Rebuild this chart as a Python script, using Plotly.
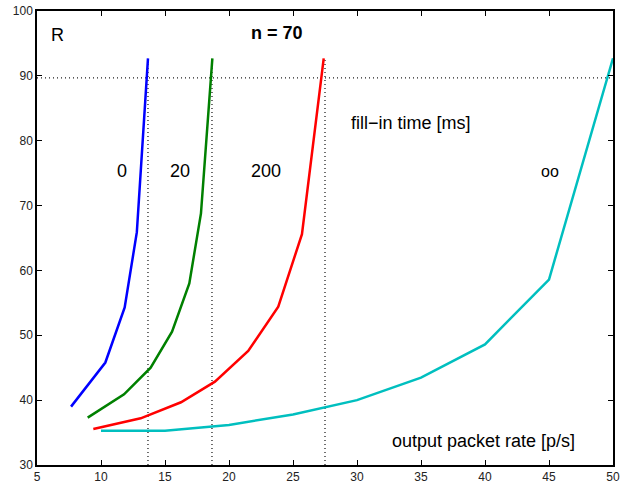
import plotly.graph_objects as go

# Curves: fill-in time 0, 20, 200 ms and infinity
x_0 = [7.66, 10.34, 11.85, 12.8, 13.67]
y_0 = [39.0, 45.8, 54.3, 65.9, 92.7]

x_20 = [8.96, 11.8, 13.88, 15.55, 16.9, 17.81, 18.7]
y_20 = [37.3, 40.9, 45.0, 50.55, 58.0, 68.8, 92.7]

x_200 = [9.4, 13.1, 16.25, 18.9, 21.5, 23.85, 25.7, 27.4]
y_200 = [35.55, 37.2, 39.67, 42.85, 47.58, 54.4, 65.6, 92.7]

x_inf = [10, 15, 20, 25, 30, 35, 40, 45, 50]
y_inf = [35.3, 35.3, 36.17, 37.8, 40.0, 43.46, 48.6, 58.6, 92.7]

# Reference lines
vline_x = [13.67, 18.67, 27.5]
vline_top = 92.7
hline_y = 89.7

x_ticks = [5, 10, 15, 20, 25, 30, 35, 40, 45, 50]
y_ticks = [30, 40, 50, 60, 70, 80, 90, 100]

FONT = "Liberation Sans, Arial, Helvetica, sans-serif"
DOT = dict(color="#222222", width=1.3, dash="1px,3px")

fig = go.Figure()

# dotted reference lines
fig.add_trace(go.Scatter(x=[5, 50], y=[hline_y, hline_y], mode="lines",
                         line=DOT, showlegend=False, hoverinfo="skip"))
for vx in vline_x:
    fig.add_trace(go.Scatter(x=[vx, vx], y=[30, vline_top], mode="lines",
                             line=DOT, showlegend=False, hoverinfo="skip"))

series = [
    (x_0, y_0, "#0000FF"),
    (x_20, y_20, "#008000"),
    (x_200, y_200, "#FF0000"),
    (x_inf, y_inf, "#00BFBF"),
]
for xs, ys, c in series:
    fig.add_trace(go.Scatter(x=xs, y=ys, mode="lines",
                             line=dict(color=c, width=2.5),
                             showlegend=False))

annots = [
    (6.64, 96.3, "R", False, 18),
    (23.75, 96.6, "n = 70", True, 18),
    (11.64, 75.3, "0", False, 18),
    (16.2, 75.3, "20", False, 18),
    (22.9, 75.3, "200", False, 18),
    (34.2, 82.7, "fill\u2212in time [ms]", False, 18),
    (45.1, 75.3, "oo", False, 16),
    (39.9, 33.7, "output packet rate [p/s]", False, 18),
]
for ax, ay, t, b, s in annots:
    fig.add_annotation(x=ax, y=ay, text=f"<b>{t}</b>" if b else t,
                       showarrow=False, font=dict(family=FONT, size=s, color="black"),
                       xanchor="center", yanchor="middle")

axis_common = dict(showgrid=False, zeroline=False, ticks="inside", ticklen=5,
                   tickcolor="black", showline=True, linecolor="black", linewidth=1.5,
                   mirror="ticks", automargin=False,
                   tickfont=dict(family=FONT, size=12, color="#222222"))

fig.update_xaxes(range=[5, 50], tickvals=x_ticks, **axis_common)
fig.update_yaxes(range=[30, 100], tickvals=y_ticks, **axis_common)

fig.update_layout(width=625, height=485, margin=dict(l=37, r=12, t=11, b=20),
                  plot_bgcolor="white", paper_bgcolor="white")

fig.write_html("out.html")
